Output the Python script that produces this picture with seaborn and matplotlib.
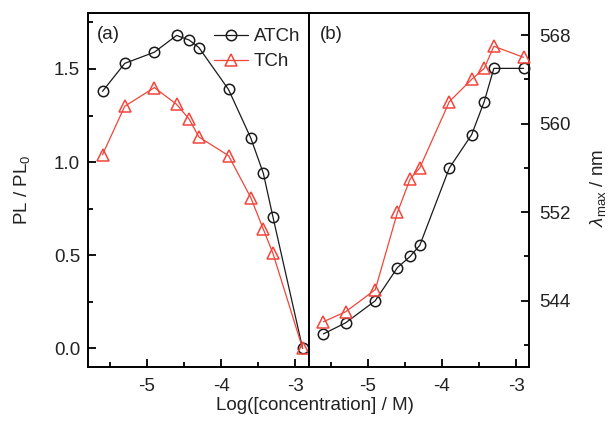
import numpy as np
import pandas as pd
import matplotlib
matplotlib.use("Agg")
import matplotlib.pyplot as plt
from matplotlib.ticker import MultipleLocator, FormatStrFormatter
import seaborn as sns

# log of molar concentration
log_conc = [-5.6, -5.3, -4.9, -4.6, -4.43, -4.3, -3.9, -3.6, -3.43, -3.3, -2.9]

# (a) relative PL intensity
pl_atch = [1.38, 1.53, 1.59, 1.68, 1.655, 1.615, 1.39, 1.13, 0.94, 0.705, 0.0]
pl_tch = [1.04, 1.30, 1.40, 1.31, 1.23, 1.135, 1.035, 0.81, 0.64, 0.51, 0.0]

# (b) emission maximum, nm
lam_atch = [541.0, 542.0, 544.0, 547.0, 548.0, 549.0, 556.0, 559.0, 562.0, 565.0, 565.0]
lam_tch = [542.1, 543.0, 545.0, 552.0, 555.0, 556.0, 562.0, 564.0, 565.0, 567.0, 566.0]

series_names = ["ATCh", "TCh"]
colors = {"ATCh": "#1a1a1a", "TCh": "#f2453a"}
markers = {"ATCh": "o", "TCh": "^"}
FS = 13.5
TXT = "#222222"

sns.set_style("ticks")
plt.rcParams["font.family"] = ["Liberation Sans", "DejaVu Sans"]
plt.rcParams["font.size"] = FS
plt.rcParams["axes.unicode_minus"] = False
plt.rcParams["mathtext.fontset"] = "custom"
plt.rcParams["mathtext.rm"] = "Liberation Sans"
plt.rcParams["mathtext.it"] = "Liberation Sans:italic"

fig = plt.figure(figsize=(6.11, 4.21), dpi=100)
ax_a = fig.add_axes([0.1435, 0.128, 0.3615, 0.841])
ax_b = fig.add_axes([0.505, 0.128, 0.3615, 0.841])

df_a = pd.DataFrame({"x": log_conc * 2,
                     "y": pl_atch + pl_tch,
                     "s": ["ATCh"] * len(log_conc) + ["TCh"] * len(log_conc)})
df_b = pd.DataFrame({"x": log_conc * 2,
                     "y": lam_atch + lam_tch,
                     "s": ["ATCh"] * len(log_conc) + ["TCh"] * len(log_conc)})

for ax, df in ((ax_a, df_a), (ax_b, df_b)):
    for name in series_names:
        sub = df[df["s"] == name]
        ms = 7.5 if name == "ATCh" else 8.5
        sns.lineplot(data=sub, x="x", y="y", ax=ax, color=colors[name],
                     marker=markers[name], markersize=ms,
                     markerfacecolor="none", markeredgecolor=colors[name],
                     markeredgewidth=1.1, linewidth=0.9, label=name,
                     legend=False, clip_on=False, zorder=3)

for ax in (ax_a, ax_b):
    ax.set_xlim(-5.8, -2.82)
    ax.xaxis.set_major_locator(MultipleLocator(1))
    ax.xaxis.set_minor_locator(MultipleLocator(0.5))
    ax.set_xlabel("")
    ax.set_ylabel("")
    for sp in ax.spines.values():
        sp.set_visible(True)
        sp.set_linewidth(1.4)
        sp.set_color("black")
    ax.tick_params(which="both", direction="in", width=1.3, color="black",
                   labelcolor=TXT, labelsize=FS, top=False)
    ax.tick_params(which="major", length=6)
    ax.tick_params(which="minor", length=3.5)
    ax.tick_params(axis="x", which="major", pad=7.5)

ax_a.set_ylim(-0.1, 1.8)
ax_a.yaxis.set_major_locator(MultipleLocator(0.5))
ax_a.yaxis.set_minor_locator(MultipleLocator(0.25))
ax_a.yaxis.set_major_formatter(FormatStrFormatter("%.1f"))
ax_a.tick_params(axis="y", which="both", left=True, right=False)
ax_a.tick_params(axis="y", which="major", pad=5.5)

ax_b.set_ylim(538, 570)
ax_b.yaxis.set_major_locator(MultipleLocator(8))
ax_b.yaxis.set_minor_locator(MultipleLocator(4))
ax_b.yaxis.tick_right()
ax_b.tick_params(axis="y", which="both", left=False, right=True,
                 labelleft=False, labelright=True)
ax_b.tick_params(axis="y", which="major", pad=7)

ax_a.text(0.04, 0.94, "(a)", transform=ax_a.transAxes, fontsize=FS,
          va="center", ha="left", color=TXT)
ax_b.text(0.05, 0.94, "(b)", transform=ax_b.transAxes, fontsize=FS,
          va="center", ha="left", color=TXT)

leg = ax_a.legend(loc="upper left", bbox_to_anchor=(0.54, 0.978),
                  frameon=False, fontsize=FS, handlelength=1.8,
                  handletextpad=0.3, labelspacing=0.4, borderaxespad=0.0)
for t in leg.get_texts():
    t.set_color(TXT)

fig.text(0.036, 0.55, "PL / PL$_0$", rotation=90, ha="center", va="center",
         fontsize=FS, color=TXT)
fig.text(0.978, 0.553, r"$\it{\lambda}_{\rm max}$ / nm", rotation=90,
         ha="center", va="center", fontsize=FS, color=TXT)
fig.text(0.516, 0.036, "Log([concentration] / M)", ha="center", va="center",
         fontsize=FS, color=TXT)

fig.savefig("out.png", dpi=100)
